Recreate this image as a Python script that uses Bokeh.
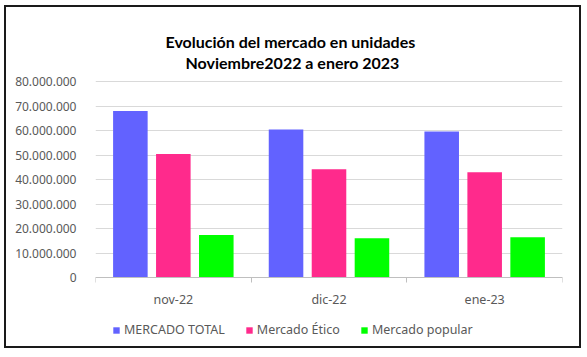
from bokeh.plotting import figure
from bokeh.models import (ColumnDataSource, FixedTicker, Legend, LegendItem,
                          Range1d, Title)
from bokeh.embed import file_html
from bokeh.resources import INLINE

categories = ["nov-22", "dic-22", "ene-23"]
series_names = ["MERCADO TOTAL", "Mercado Ético", "Mercado popular"]
mercado_total = [68000000, 60400000, 59600000]
mercado_etico = [50400000, 44200000, 43000000]
mercado_popular = [17300000, 16000000, 16400000]
y_ticks = [0, 10000000, 20000000, 30000000, 40000000, 50000000, 60000000, 70000000, 80000000]
title_lines = ["Evolución del mercado en unidades", "Noviembre2022 a enero 2023"]
colors = ["#6262FF", "#FF2A8C", "#00FF00"]

FONT = "Noto Sans"
GRAY = "#595959"

# layout (pixels inside the bordered box)
AXIS_PX = 196                 # pixels from 0 to the top tick
PX_ABOVE = 10                 # frame space above the top tick
PX_BELOW = 73                 # frame space below zero (holds the legend)
units_per_px = y_ticks[-1] / AXIS_PX
y_start = -PX_BELOW * units_per_px
y_end = y_ticks[-1] + PX_ABOVE * units_per_px

p = figure(frame_width=467, frame_height=AXIS_PX + PX_ABOVE + PX_BELOW,
           output_backend="svg", toolbar_location=None,
           x_range=Range1d(0, len(categories)), y_range=Range1d(y_start, y_end),
           min_border_left=89, min_border_right=17, min_border_top=64, min_border_bottom=0,
           styles={"border": "2px solid #1A1A1A", "margin-left": "4px", "margin-top": "5px",
                   "max-height": "343px", "overflow": "hidden"})
p.background_fill_color = "white"
p.border_fill_color = "white"
p.outline_line_color = None
p.title = None

title_offsets = [70, 90]
for line, off in reversed(list(zip(title_lines, title_offsets))):
    p.add_layout(Title(text=line, align="left", offset=off, text_font="Lato",
                       text_font_size="16px", text_font_style="bold",
                       text_color="#000000", standoff=0), "above")

centers = [i + 0.5 for i in range(len(categories))]
offsets = [-0.276, 0.0, 0.276]
values = [mercado_total, mercado_etico, mercado_popular]
items = []
for name, vals, off, col in zip(series_names, values, offsets, colors):
    src = ColumnDataSource(dict(x=[c + off for c in centers], top=vals))
    r = p.vbar(x="x", top="top", bottom=0, width=0.222, source=src,
               fill_color=col, line_color=None)
    items.append(LegendItem(label=name, renderers=[r]))

# x axis drawn at value 0
xa = p.xaxis[0]
xa.fixed_location = 0
xa.ticker = FixedTicker(ticks=centers, minor_ticks=list(range(len(categories) + 1)))
xa.major_label_overrides = {c: lab for c, lab in zip(centers, categories)}
xa.major_tick_line_color = None
xa.major_tick_out = 0
xa.major_tick_in = 0
xa.minor_tick_in = 0
xa.minor_tick_out = 5
xa.minor_tick_line_color = "#BFBFBF"
xa.axis_line_color = "#BFBFBF"
xa.major_label_text_font = FONT
xa.major_label_text_font_size = "12.5px"
xa.major_label_text_color = GRAY
xa.major_label_standoff = 8

ya = p.yaxis[0]
ya.ticker = FixedTicker(ticks=y_ticks)
ya.major_label_overrides = {v: f"{v:,}".replace(",", ".") for v in y_ticks}
ya.axis_line_color = None
ya.major_tick_line_color = None
ya.minor_tick_line_color = None
ya.major_label_text_font = FONT
ya.major_label_text_font_size = "12px"
ya.major_label_text_color = GRAY
ya.major_label_standoff = 13

p.xgrid.grid_line_color = None
p.ygrid.grid_line_color = "#D9D9D9"
p.ygrid.ticker = FixedTicker(ticks=y_ticks)

legend = Legend(items=items, orientation="horizontal", location=(17, 12),
                label_text_font=FONT, label_text_font_size="12.5px",
                label_text_color=GRAY, glyph_width=8, glyph_height=8,
                label_standoff=4, spacing=20, border_line_color=None,
                background_fill_alpha=0, padding=0, margin=0)
p.add_layout(legend)

open("out.html", "w").write(file_html(p, INLINE))
